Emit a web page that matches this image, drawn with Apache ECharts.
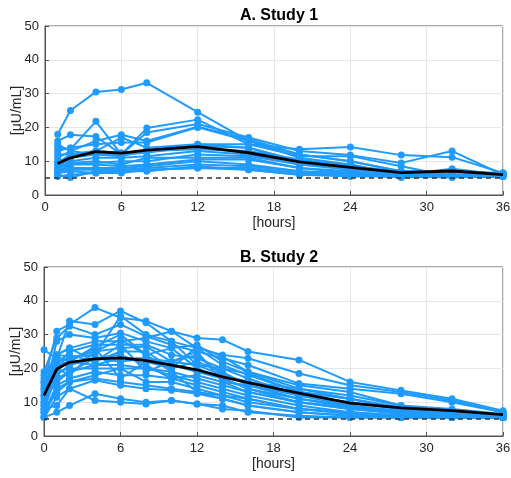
<!DOCTYPE html>
<html><head><meta charset="utf-8">
<script src="https://cdn.jsdelivr.net/npm/echarts@6/dist/echarts.min.js"></script>
<style>html,body{margin:0;padding:0;background:#fff}#c{width:511px;height:478px}</style>
</head><body><div id="c"></div>
<script>
// ---- Study 1 ----
const timesA = [1, 2, 4, 6, 8, 12, 16, 20, 24, 28, 32, 36];
const subjectsA = [
  [18, 25, 30.5, 31.2, 33.2, 24.5, 16, 12, 10, 7, 7, 6],
  [16, 17.8, 17.3, 12, 19.8, 22.3, 15, 13.5, 14.2, 11.8, 11.2, 6.5],
  [14, 13.5, 21.8, 12, 18.5, 21, 17, 13, 11.8, 9.5, 13, 6],
  [15, 13, 16, 17.8, 16, 20.2, 16.5, 12, 10, 7, 6, 6],
  [13, 14, 15, 15.5, 15.5, 20, 16, 11, 9, 6, 7.8, 6],
  [12, 12, 13, 17, 14, 15, 15, 11.5, 11.5, 8.5, 5.5, 5.5],
  [10, 11, 12, 12, 12.5, 14.5, 14, 10, 8, 6, 6, 6],
  [9, 10, 11, 11, 11.5, 13, 12, 9, 7.5, 6, 6, 6],
  [8.5, 9.5, 10, 9, 11, 11, 11, 8, 7, 5.5, 5.5, 5.5],
  [8, 9, 9, 8.5, 9, 10.5, 10.5, 8, 6.5, 6, 6, 6],
  [7.5, 8, 8, 8, 8.5, 10, 9, 7, 6.5, 5.5, 5.5, 6],
  [7, 7.5, 7.5, 7.5, 8, 9, 8.5, 7, 6, 5.5, 5.2, 5.5],
  [6, 5.2, 7, 7.5, 7.5, 8, 8, 6.5, 6, 5.2, 5.5, 6],
  [6.5, 7, 6.5, 7, 7, 8.5, 7.5, 6, 6, 6, 5.5, 6.5],
  [5.5, 6, 6.5, 6.5, 7.5, 8, 7.5, 6, 5.5, 5.5, 5.5, 6],
  [9.5, 12, 13, 12.5, 13, 15, 14, 10, 9, 6, 7, 6],
  [11, 13, 12, 11.5, 13, 13.5, 13, 10.5, 8.5, 7, 7, 6.5],
  [7, 9, 9.5, 10, 10, 12, 11.5, 9, 8, 6.5, 6, 6]
];
const meanA = [9.3, 11, 12.8, 12.4, 13.3, 14.3, 12.5, 9.8, 8.2, 6.6, 7.1, 6.0];

// ---- Study 2 ----
const timesB = [0, 1, 2, 4, 6, 8, 10, 12, 14, 16, 20, 24, 28, 32, 36];
const subjectsB = [
  [16, 31, 33, 38, 35, 34, 31, 29, 28.5, 25, 22.5, 16, 13.5, 11, 7.5],
  [25.5, 23, 34, 33, 37, 33.5, 28, 26, 24, 23, 18.5, 15, 13, 10.5, 7],
  [19, 29, 32.5, 30, 33, 29.5, 27, 25, 23, 21, 15.5, 14, 12.5, 10, 7],
  [12, 28, 30, 29, 30.5, 28, 26, 27, 22, 19, 14, 12, 9, 8, 6.5],
  [15, 24, 26, 28, 28, 29, 31, 26, 21, 18, 13, 11, 8, 7, 6],
  [10, 21, 25, 27, 27, 27, 24, 23, 20, 17, 12, 10, 8, 7.5, 6],
  [13, 22, 23, 25, 26, 26.5, 22, 21, 18, 16, 12, 9, 7.5, 7, 6],
  [9, 20, 24, 22, 25, 25, 20, 22, 19, 15, 11, 9, 7, 6.5, 6],
  [17, 23.5, 22, 21, 23, 23, 21, 19, 17, 14, 11, 8.5, 7, 6.5, 6],
  [8, 18, 21, 23, 22, 23, 22, 25, 16, 13, 10, 8, 7, 6.5, 5.5],
  [14, 19, 20, 20, 20, 20, 19, 17, 15, 13, 10, 8, 6.5, 6, 5.5],
  [11, 16, 19, 21, 21, 20, 18, 16, 14, 12, 9, 7, 6, 6, 5.5],
  [7, 15, 17, 19, 18, 18, 17, 15, 13, 11, 8, 7, 6, 5.5, 5.5],
  [6, 14, 16, 18, 20, 16, 16, 14, 12, 11, 8, 6.5, 5.5, 5.5, 5.5],
  [5.5, 11.5, 14, 16.5, 15, 14, 13.5, 12.5, 11, 9, 7, 6, 5.5, 5.5, 5.5],
  [5.5, 7, 9, 12.5, 11, 10, 10.5, 9.5, 9, 7, 6, 5.5, 5.5, 5.5, 5.5],
  [8, 9, 14, 10.5, 10, 9.5, 10.5, 9.5, 8, 7.5, 5.5, 5.5, 5.5, 5.5, 5.5],
  [12, 24, 23.5, 24, 35.5, 30, 28, 21, 20, 18.5, 13, 11, 8.5, 7, 6],
  [16, 20, 22, 26, 17, 22, 20, 26.5, 23.5, 19, 15, 13, 9, 7, 6],
  [10, 17, 19, 23, 24, 21, 17, 18, 16, 15, 12, 10, 8, 6.5, 6],
  [18, 24, 26, 22, 27, 19, 22, 24, 18, 16, 14, 11, 8, 6, 5.5],
  [9, 20, 18, 25, 28.5, 24, 19, 13, 11, 9, 7, 6, 5.5, 5.5, 5.5],
  [7, 13, 16, 17, 16, 15, 14, 13, 12, 10, 8, 7, 6, 6, 6],
  [14, 21, 22, 26.5, 30, 24, 26, 20, 17, 14, 10, 8.5, 7, 6.5, 6]
];
const meanB = [12, 19.8, 21.8, 22.8, 23.1, 22.3, 21, 19.6, 17.5, 15.8, 12.7, 9.7, 8.3, 7.5, 6.3];

const lloq = 5;
const titles = ['A. Study 1', 'B. Study 2'];

const BLUE = '#1f9bff';
const FONT = 'Liberation Sans, Arial, sans-serif';

function pair(t, v) { return t.map((x, i) => [x, v[i]]); }

const grids = [
  { left: 45, top: 26, width: 458, height: 169, show: true, borderColor: '#555', borderWidth: 1, containLabel: false, outerBoundsMode: 'none' },
  { left: 44, top: 267, width: 459, height: 169, show: true, borderColor: '#555', borderWidth: 1, containLabel: false, outerBoundsMode: 'none' }
];

function xAxis(i) {
  return {
    type: 'value', gridIndex: i, min: 0, max: 36, interval: 6,
    name: '[hours]', nameLocation: 'middle', nameGap: 21, nameMoveOverlap: false,
    nameTextStyle: { fontFamily: FONT, fontSize: 14, color: '#262626' },
    axisLine: { show: true, onZero: false, lineStyle: { color: '#555' } },
    axisTick: { show: true, inside: true, length: 4, lineStyle: { color: '#555' } },
    axisLabel: { fontFamily: FONT, fontSize: 13, color: '#262626', margin: 6 },
    splitLine: { show: true, lineStyle: { color: '#e6e6e6' } }
  };
}
function yAxis(i) {
  return {
    type: 'value', gridIndex: i, min: 0, max: 50, interval: 10,
    name: '[\u03bcU/mL]', nameLocation: 'middle', nameGap: 21, nameMoveOverlap: false,
    nameTextStyle: { fontFamily: FONT, fontSize: 14, color: '#262626' },
    axisLine: { show: true, lineStyle: { color: '#555' } },
    axisTick: { show: true, inside: true, length: 4, lineStyle: { color: '#555' } },
    axisLabel: { fontFamily: FONT, fontSize: 13, color: '#262626', margin: 6 },
    splitLine: { show: true, lineStyle: { color: '#e6e6e6' } }
  };
}

const series = [];
function addPanel(i, times, subs, mean) {
  subs.forEach(s => series.push({
    type: 'line', xAxisIndex: i, yAxisIndex: i, data: pair(times, s),
    symbol: 'circle', symbolSize: 7, showSymbol: true,
    lineStyle: { color: BLUE, width: 2 }, itemStyle: { color: BLUE },
    silent: true, animation: false, z: 2
  }));
  series.push({
    type: 'line', xAxisIndex: i, yAxisIndex: i, data: pair(times, mean),
    symbol: 'none', lineStyle: { color: '#000', width: 2.8 }, z: 4, animation: false,
    markLine: {
      silent: true, symbol: 'none', label: { show: false },
      lineStyle: { color: '#333', type: [5, 4], width: 1.5 },
      data: [{ yAxis: lloq }], animation: false
    }
  });
}
addPanel(0, timesA, subjectsA, meanA);
addPanel(1, timesB, subjectsB, meanB);

const chart = echarts.init(document.getElementById('c'), null, { renderer: 'canvas' });
chart.setOption({
  animation: false,
  title: [
    { text: titles[0], left: 274, top: 3, textAlign: 'center', textStyle: { fontFamily: FONT, fontSize: 16, fontWeight: 'bold', color: '#000' } },
    { text: titles[1], left: 274, top: 245, textAlign: 'center', textStyle: { fontFamily: FONT, fontSize: 16, fontWeight: 'bold', color: '#000' } }
  ],
  grid: grids,
  xAxis: [xAxis(0), xAxis(1)],
  yAxis: [yAxis(0), yAxis(1)],
  series: series
});
</script></body></html>
